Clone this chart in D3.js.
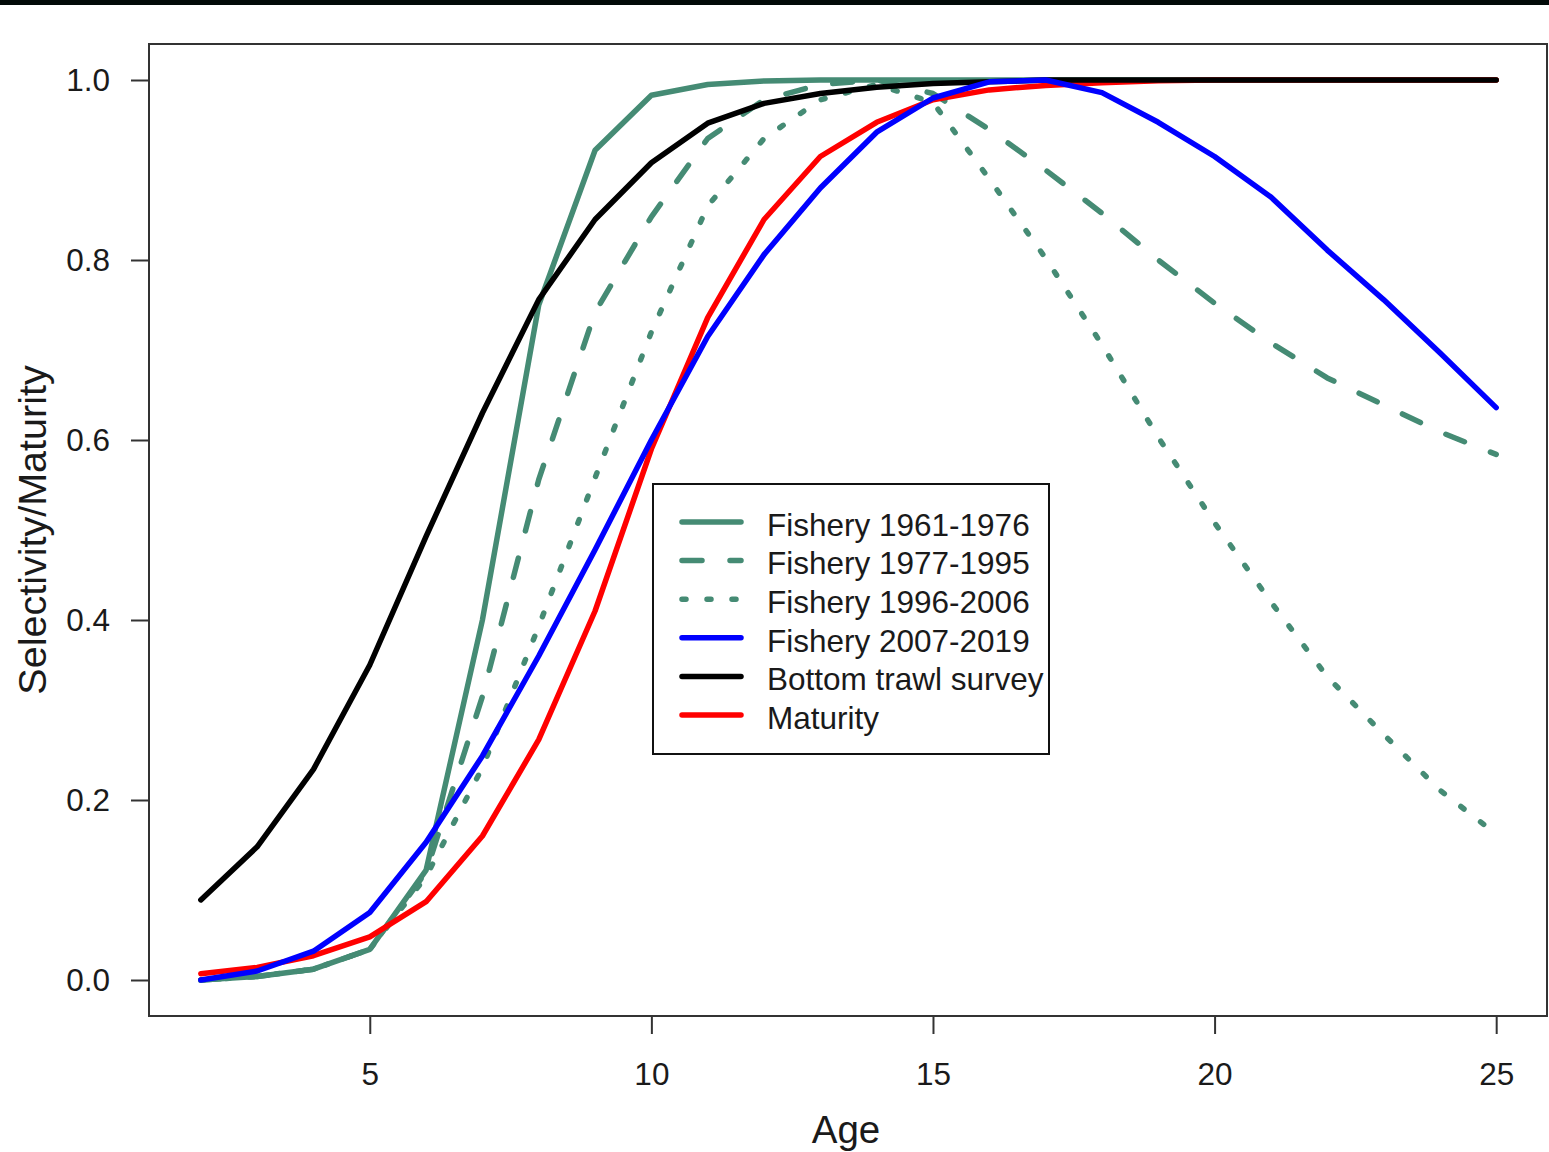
<!DOCTYPE html>
<html>
<head>
<meta charset="utf-8">
<script src="https://cdn.jsdelivr.net/npm/d3@7"></script>
<style>
  body { margin: 0; background: #fff; }
  text { font-family: "Liberation Sans", Arial, sans-serif; fill: #1a1a1a; }
</style>
</head>
<body>
<div id="chart-container"></div>
<script>
// Data

    var ages = [2, 3, 4, 5, 6, 7, 8, 9, 10, 11, 12, 13, 14, 15, 16, 17, 18, 19, 20, 21, 22, 23, 24, 25];

    var fishery1961 = [0.0, 0.004, 0.012, 0.034, 0.122, 0.40, 0.75, 0.922, 0.983, 0.995, 0.999, 1, 1, 1, 1, 1, 1, 1, 1, 1, 1, 1, 1, 1];
    var fishery1977 = [0.0, 0.004, 0.012, 0.034, 0.12, 0.315, 0.556, 0.742, 0.848, 0.935, 0.978, 0.995, 1.0, 0.985, 0.945, 0.90, 0.852, 0.80, 0.752, 0.708, 0.669, 0.639, 0.609, 0.584];
    var fishery1996 = [0.0, 0.004, 0.012, 0.034, 0.115, 0.236, 0.393, 0.558, 0.72, 0.86, 0.935, 0.978, 0.995, 0.975, 0.89, 0.802, 0.706, 0.603, 0.508, 0.42, 0.337, 0.273, 0.211, 0.162];
    var fishery2007 = [0.0, 0.01, 0.032, 0.075, 0.153, 0.249, 0.36, 0.478, 0.60, 0.715, 0.806, 0.88, 0.942, 0.98, 0.998, 1.0, 0.986, 0.953, 0.915, 0.87, 0.811, 0.756, 0.697, 0.636];
    var survey      = [0.089, 0.148, 0.234, 0.35, 0.493, 0.63, 0.756, 0.845, 0.908, 0.952, 0.974, 0.985, 0.992, 0.996, 0.998, 1, 1, 1, 1, 1, 1, 1, 1, 1];
    var maturity    = [0.007, 0.014, 0.027, 0.048, 0.087, 0.16, 0.267, 0.41, 0.59, 0.736, 0.845, 0.915, 0.953, 0.978, 0.989, 0.994, 0.997, 0.9993, 1, 1, 1, 1, 1, 1];

    var xTicks = [5, 10, 15, 20, 25];
    var yTicks = [0, 0.2, 0.4, 0.6, 0.8, 1.0];

    var seriesNames = ["Fishery 1961-1976", "Fishery 1977-1995", "Fishery 1996-2006", "Fishery 2007-2019", "Bottom trawl survey", "Maturity"];


// Constants setup

    var svgWidth  = 1549;
    var svgHeight = 1152;

    var margin = { top: 44, right: 1, bottom: 136, left: 149 };
    var width  = svgWidth - margin.left - margin.right,
        height = svgHeight - margin.top - margin.bottom;

    var green = "#458B74";
    var lineWidth = 5.5;

    // one entry per line, draw order matters (black over red, blue over black)
    var lines = [
        { name: seriesNames[0], values: fishery1961, color: green,  dash: null },
        { name: seriesNames[1], values: fishery1977, color: green,  dash: "20,28" },
        { name: seriesNames[2], values: fishery1996, color: green,  dash: "4,21" },
        { name: seriesNames[5], values: maturity,    color: "#ff0000", dash: null },
        { name: seriesNames[4], values: survey,      color: "#000000", dash: null },
        { name: seriesNames[3], values: fishery2007, color: "#0000ff", dash: null }
    ];
    var legendOrder = [0, 1, 2, 5, 4, 3];


// Start of SVG

    var svg = d3.select("#chart-container")
        .append("svg")
            .attr("width", svgWidth)
            .attr("height", svgHeight);

    // black strip along the top of the screenshot
    svg.append("rect")
        .attr("x", 0).attr("y", 0)
        .attr("width", svgWidth).attr("height", 5)
        .attr("fill", "#020a08");

    var g = svg.append("g")
        .attr("transform", `translate(${margin.left}, ${margin.top})`);

    // scales, R style 4% padding
    var x = d3.scaleLinear().domain([1.08, 25.92]).range([0, width]);
    var y = d3.scaleLinear().domain([-0.04, 1.04]).range([height, 0]);

    // X axis
    var xAxis = g.append("g")
        .attr("transform", "translate(0," + height + ")")
        .call(d3.axisBottom(x).tickValues(xTicks).tickSize(18).tickPadding(29).tickFormat(d3.format("d")));

    // Y axis
    var yAxis = g.append("g")
        .call(d3.axisLeft(y).tickValues(yTicks).tickSize(18).tickPadding(21).tickFormat(d3.format(".1f")));

    [xAxis, yAxis].forEach(function(a) {
        a.select(".domain").remove();
        a.selectAll("line").attr("stroke", "#333").attr("stroke-width", 2);
        a.selectAll("text").attr("font-size", 31.5).attr("fill", "#1a1a1a")
            .style("font-family", "'Liberation Sans', Arial, sans-serif");
    });

    // lines
    var line = d3.line()
        .x(function(d, i) { return x(ages[i]); })
        .y(function(d) { return y(d); });

    g.selectAll(".series")
        .data(lines)
        .enter()
            .append("path")
                .attr("class", "series")
                .attr("d", function(d) { return line(d.values); })
                .attr("fill", "none")
                .attr("stroke", function(d) { return d.color; })
                .attr("stroke-width", lineWidth)
                .attr("stroke-linejoin", "round")
                .attr("stroke-linecap", "round")
                .attr("stroke-dasharray", function(d) { return d.dash; });

    // plot box
    g.append("rect")
        .attr("x", 0).attr("y", 0)
        .attr("width", width - 1).attr("height", height)
        .attr("fill", "none")
        .attr("stroke", "#333")
        .attr("stroke-width", 2);

    // axis titles
    svg.append("text")
        .attr("x", 846).attr("y", 1143)
        .attr("text-anchor", "middle")
        .attr("font-size", 38.5)
        .text("Age");

    svg.append("text")
        .attr("transform", "translate(46, 530) rotate(-90)")
        .attr("text-anchor", "middle")
        .attr("font-size", 39.5)
        .text("Selectivity/Maturity");


// Legend

    var legend = svg.append("g")
        .attr("transform", "translate(653, 484)");

    legend.append("rect")
        .attr("width", 396).attr("height", 270)
        .attr("fill", "#fff")
        .attr("stroke", "#111")
        .attr("stroke-width", 2);

    var legendItems = legend.selectAll(".legend-item")
        .data(legendOrder.map(function(i) { return lines[i]; }))
        .enter()
            .append("g")
                .attr("class", "legend-item")
                .attr("transform", function(d, i) { return "translate(0," + (38 + i * 38.6) + ")"; });

    legendItems.append("line")
        .attr("x1", 29).attr("x2", 88)
        .attr("stroke", function(d) { return d.color; })
        .attr("stroke-width", lineWidth)
        .attr("stroke-linecap", "round")
        .attr("stroke-dasharray", function(d) { return d.dash; });

    legendItems.append("text")
        .attr("x", 114)
        .attr("dy", "0.44em")
        .attr("font-size", 31.5)
        .text(function(d) { return d.name; });
</script>
</body>
</html>
